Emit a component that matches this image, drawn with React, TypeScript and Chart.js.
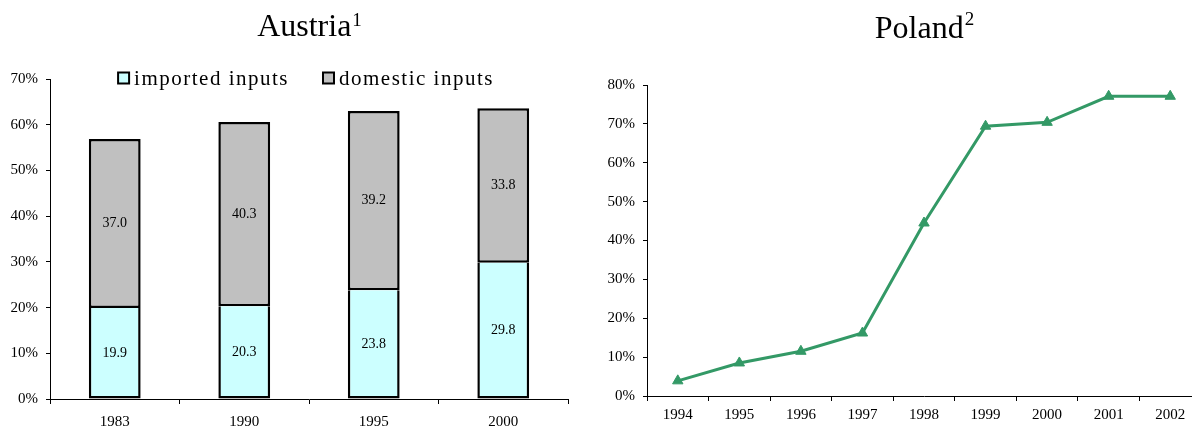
import React, { useEffect, useRef } from "react";
import { Chart, registerables } from "chart.js";

Chart.register(...registerables);

const FONT = "'Liberation Serif', 'Times New Roman', serif";

// Austria data
const austriaYears = ["1983", "1990", "1995", "2000"];
const importedInputs = [19.9, 20.3, 23.8, 29.8];
const domesticInputs = [37.0, 40.3, 39.2, 33.8];
const austriaTitle = "Austria";
const austriaNote = "1";

// Poland data
const polandYears = ["1994", "1995", "1996", "1997", "1998", "1999", "2000", "2001", "2002"];
const polandValues = [3.9, 8.5, 11.5, 16.2, 44.5, 69.4, 70.4, 77.1, 77.1];
const polandTitle = "Poland";
const polandNote = "2";

const titlePlugin = (text: string, note: string, baseline: number, supBaseline: number) => ({
  id: "customTitle",
  afterDraw(chart: any) {
    const { ctx, chartArea } = chart;
    ctx.save();
    ctx.fillStyle = "#000";
    ctx.textBaseline = "alphabetic";
    ctx.textAlign = "left";
    ctx.font = `32px ${FONT}`;
    const w1 = ctx.measureText(text).width;
    ctx.font = `19px ${FONT}`;
    const w2 = ctx.measureText(note).width;
    const cx = (chartArea.left + chartArea.right) / 2;
    const x0 = cx - (w1 + w2) / 2;
    ctx.font = `32px ${FONT}`;
    ctx.fillText(text, x0, baseline);
    ctx.font = `19px ${FONT}`;
    ctx.fillText(note, x0 + w1 + 1, supBaseline);
    ctx.restore();
  },
});

const barLabelPlugin = {
  id: "barLabels",
  afterDatasetsDraw(chart: any) {
    const { ctx } = chart;
    ctx.save();
    ctx.fillStyle = "#000";
    ctx.font = `14px ${FONT}`;
    ctx.textAlign = "center";
    ctx.textBaseline = "middle";
    chart.data.datasets.forEach((ds: any, i: number) => {
      const meta = chart.getDatasetMeta(i);
      meta.data.forEach((bar: any, j: number) => {
        const y = (bar.y + bar.base) / 2;
        ctx.fillText(Number(ds.data[j]).toFixed(1), bar.x, y);
      });
    });
    ctx.restore();
  },
};

const legendPlugin = {
  id: "inlineLegend",
  afterDraw(chart: any) {
    const { ctx, chartArea } = chart;
    ctx.save();
    ctx.font = `21px ${FONT}`;
    try {
      (ctx as any).letterSpacing = "1.5px";
    } catch (e) {}
    ctx.textBaseline = "middle";
    ctx.textAlign = "left";
    const box = 11;
    const gap = 5;
    const spacing = 34;
    const items = chart.data.datasets.map((ds: any) => ({
      label: ds.label,
      color: ds.backgroundColor,
      w: box + gap + ctx.measureText(ds.label).width,
    }));
    const total = items.reduce((a: number, it: any) => a + it.w, 0) + spacing * (items.length - 1);
    let x = (chartArea.left + chartArea.right) / 2 - total / 2 - 3;
    const cy = chartArea.top - 1;
    items.forEach((it: any) => {
      ctx.fillStyle = it.color;
      ctx.fillRect(x, cy - box / 2, box, box);
      ctx.strokeStyle = "#000";
      ctx.lineWidth = 2;
      ctx.strokeRect(x, cy - box / 2, box, box);
      ctx.fillStyle = "#000";
      ctx.fillText(it.label, x + box + gap, cy + 1);
      x += it.w + spacing;
    });
    ctx.restore();
  },
};

const axisCommon = {
  color: "#000",
  font: { family: FONT, size: 15 },
};

function AustriaChart() {
  const ref = useRef<HTMLCanvasElement | null>(null);
  useEffect(() => {
    if (!ref.current) return;
    const chart = new Chart(ref.current, {
      type: "bar",
      data: {
        labels: austriaYears,
        datasets: [
          {
            label: "imported inputs",
            data: importedInputs,
            backgroundColor: "#CCFFFF",
            borderColor: "#000",
            borderWidth: 2.5,
            borderSkipped: "top",
            barPercentage: 0.4,
            categoryPercentage: 1,
          },
          {
            label: "domestic inputs",
            data: domesticInputs,
            backgroundColor: "#C0C0C0",
            borderColor: "#000",
            borderWidth: 2.5,
            borderSkipped: false,
            barPercentage: 0.4,
            categoryPercentage: 1,
          },
        ],
      },
      options: {
        animation: false,
        responsive: true,
        maintainAspectRatio: false,
        layout: { padding: { top: 79, left: 0, right: 28, bottom: 0 } },
        plugins: { legend: { display: false }, tooltip: { enabled: false }, title: { display: false } },
        scales: {
          x: {
            stacked: true,
            grid: { display: true, drawOnChartArea: false, drawTicks: true, tickLength: 5, color: "#000", offset: true },
            border: { display: true, color: "#000", width: 1 },
            ticks: { ...axisCommon, padding: 9, maxRotation: 0 },
            afterFit: (s: any) => {
              s.height = 29;
            },
          },
          y: {
            stacked: true,
            min: 0,
            max: 70,
            grid: { display: true, drawOnChartArea: false, drawTicks: true, tickLength: 4, color: "#000" },
            border: { display: true, color: "#000", width: 1 },
            ticks: { ...axisCommon, stepSize: 10, padding: 8, callback: (v: any) => `${v}%` },
            afterFit: (s: any) => {
              s.width = 50;
            },
          },
        },
      },
      plugins: [barLabelPlugin, legendPlugin, titlePlugin(austriaTitle, austriaNote, 36, 26)],
    });
    return () => chart.destroy();
  }, []);
  return (
    <div style={{ position: "absolute", left: 0, top: 0, width: 596, height: 428 }}>
      <canvas ref={ref} />
    </div>
  );
}

function PolandChart() {
  const ref = useRef<HTMLCanvasElement | null>(null);
  useEffect(() => {
    if (!ref.current) return;
    const chart = new Chart(ref.current, {
      type: "line",
      data: {
        labels: polandYears,
        datasets: [
          {
            label: "Poland",
            data: polandValues,
            borderColor: "#339966",
            backgroundColor: "#339966",
            borderWidth: 3,
            pointStyle: "triangle",
            pointRadius: 6,
            pointBackgroundColor: "#339966",
            pointBorderColor: "#339966",
            pointBorderWidth: 1,
            tension: 0,
          },
        ],
      },
      options: {
        animation: false,
        responsive: true,
        maintainAspectRatio: false,
        layout: { padding: { top: 85, left: 0, right: 0, bottom: 0 } },
        plugins: { legend: { display: false }, tooltip: { enabled: false }, title: { display: false } },
        scales: {
          x: {
            offset: true,
            grid: { display: true, drawOnChartArea: false, drawTicks: true, tickLength: 5, color: "#000", offset: true },
            border: { display: true, color: "#000", width: 1 },
            ticks: { ...axisCommon, padding: 5, maxRotation: 0, autoSkip: false },
            afterFit: (s: any) => {
              s.height = 32;
            },
          },
          y: {
            min: 0,
            max: 80,
            grid: { display: true, drawOnChartArea: false, drawTicks: true, tickLength: 4, color: "#000" },
            border: { display: true, color: "#000", width: 1 },
            ticks: { ...axisCommon, stepSize: 10, padding: 8, callback: (v: any) => `${v}%` },
            afterFit: (s: any) => {
              s.width = 51;
            },
          },
        },
      },
      plugins: [titlePlugin(polandTitle, polandNote, 38, 25)],
    });
    return () => chart.destroy();
  }, []);
  return (
    <div style={{ position: "absolute", left: 596, top: 0, width: 596, height: 428, overflow: "hidden" }}>
      <div style={{ position: "relative", width: 612, height: 428 }}>
        <canvas ref={ref} />
      </div>
    </div>
  );
}

export default function App() {
  return (
    <div style={{ position: "absolute", left: 0, top: 0, width: 1192, height: 428, background: "#fff", overflow: "hidden" }}>
      <AustriaChart />
      <PolandChart />
    </div>
  );
}
